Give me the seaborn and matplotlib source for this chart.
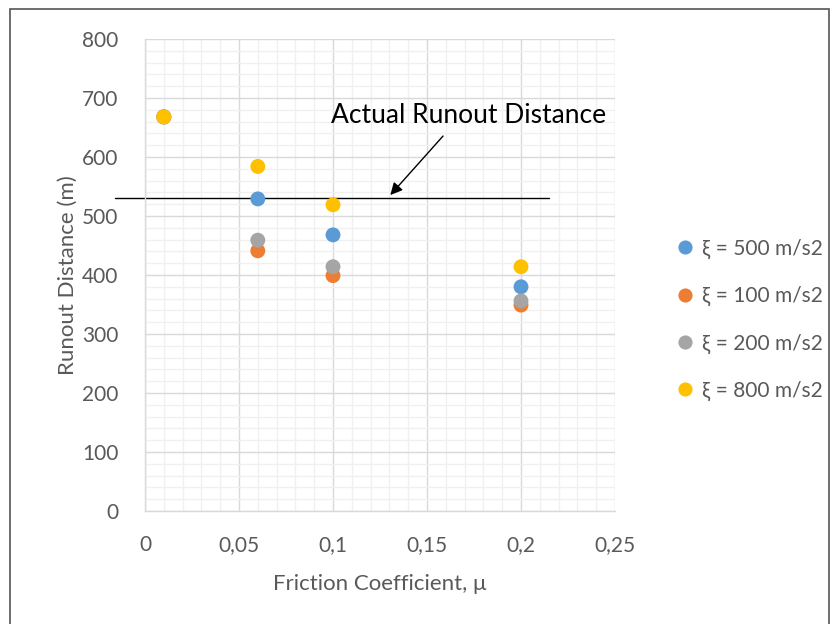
import matplotlib
matplotlib.use("Agg")
import matplotlib.pyplot as plt
import seaborn as sns
import pandas as pd
from matplotlib.patches import Rectangle

# ---- data ----
mu = [0.01, 0.06, 0.1, 0.2]
series_names = ["ξ = 500 m/s2", "ξ = 100 m/s2", "ξ = 200 m/s2", "ξ = 800 m/s2"]
runout_500 = [668, 529, 468, 380]
runout_100 = [668, 441, 399, 349]
runout_200 = [668, 459, 414, 356]
runout_800 = [668, 584, 519, 414]
colors = ["#5B9BD5", "#ED7D31", "#A5A5A5", "#FFC000"]
actual_runout = 530
x_ticks = [0, 0.05, 0.1, 0.15, 0.2, 0.25]
x_tick_labels = ["0", "0,05", "0,1", "0,15", "0,2", "0,25"]
y_ticks = [0, 100, 200, 300, 400, 500, 600, 700, 800]

rows = []
for name, vals in zip(series_names, [runout_500, runout_100, runout_200, runout_800]):
    for x, y in zip(mu, vals):
        rows.append({"mu": x, "runout": y, "series": name})
df = pd.DataFrame(rows)

sns.set_style("white")
plt.rcParams["font.family"] = ["Lato", "DejaVu Sans"]

fig = plt.figure(figsize=(8.39, 6.24), dpi=100)
ax = fig.add_axes([145/839, 1-511/624, (615-145)/839, (511-39)/624])

sns.scatterplot(data=df, x="mu", y="runout", hue="series", hue_order=series_names,
                palette=colors, s=115, edgecolor="none", ax=ax, zorder=3, legend=True)

ax.set_xlim(0, 0.25)
ax.set_ylim(0, 800)
ax.set_xticks(x_ticks)
ax.set_xticklabels(x_tick_labels)
ax.set_yticks(y_ticks)
ax.set_xticks([i * 0.01 for i in range(26)], minor=True)
ax.set_yticks(list(range(0, 801, 20)), minor=True)
ax.grid(True, which="major", color="#D9D9D9", linewidth=1.0, zorder=0)
ax.grid(True, which="minor", color="#F0F0F0", linewidth=1.0, zorder=0)
ax.set_axisbelow(True)
for s in ["top", "right"]:
    ax.spines[s].set_visible(False)
for s in ["left", "bottom"]:
    ax.spines[s].set_color("#D9D9D9")
    ax.spines[s].set_linewidth(1.0)
ax.tick_params(which="major", length=5, width=1, color="#D9D9D9", labelsize=15,
               labelcolor="#595959")
ax.tick_params(axis="x", which="major", pad=12)
ax.tick_params(axis="y", which="major", pad=14)
ax.tick_params(which="minor", length=0)
ax.set_xlabel("Friction Coefficient, μ", fontsize=16, color="#595959", labelpad=14)
ax.set_ylabel("Runout Distance (m)", fontsize=16, color="#595959", labelpad=3)

# actual runout line
ax.plot([-0.016, 0.215], [actual_runout, actual_runout], color="black", linewidth=1.0,
        clip_on=False, zorder=2)
ax.annotate("", xy=(0.1295, actual_runout + 2), xytext=(0.1595, 639),
            arrowprops=dict(arrowstyle="-|>", color="black", lw=1.0, mutation_scale=18),
            zorder=4)
ax.text(0.172, 670, "Actual Runout Distance", fontsize=19, color="black",
        ha="center", va="center", zorder=4)

leg = ax.legend(loc="center left", bbox_to_anchor=(1.065, 0.405), frameon=False,
                fontsize=15, labelspacing=1.3, handletextpad=-0.2, markerscale=0.95)
for t in leg.get_texts():
    t.set_color("#595959")

fig.patches.append(Rectangle((10/839, -0.05), (829-10)/839, 1.05 - 9/624,
                             transform=fig.transFigure, fill=False,
                             edgecolor="#555555", linewidth=1.2))

fig.savefig("out.png", dpi=100)
